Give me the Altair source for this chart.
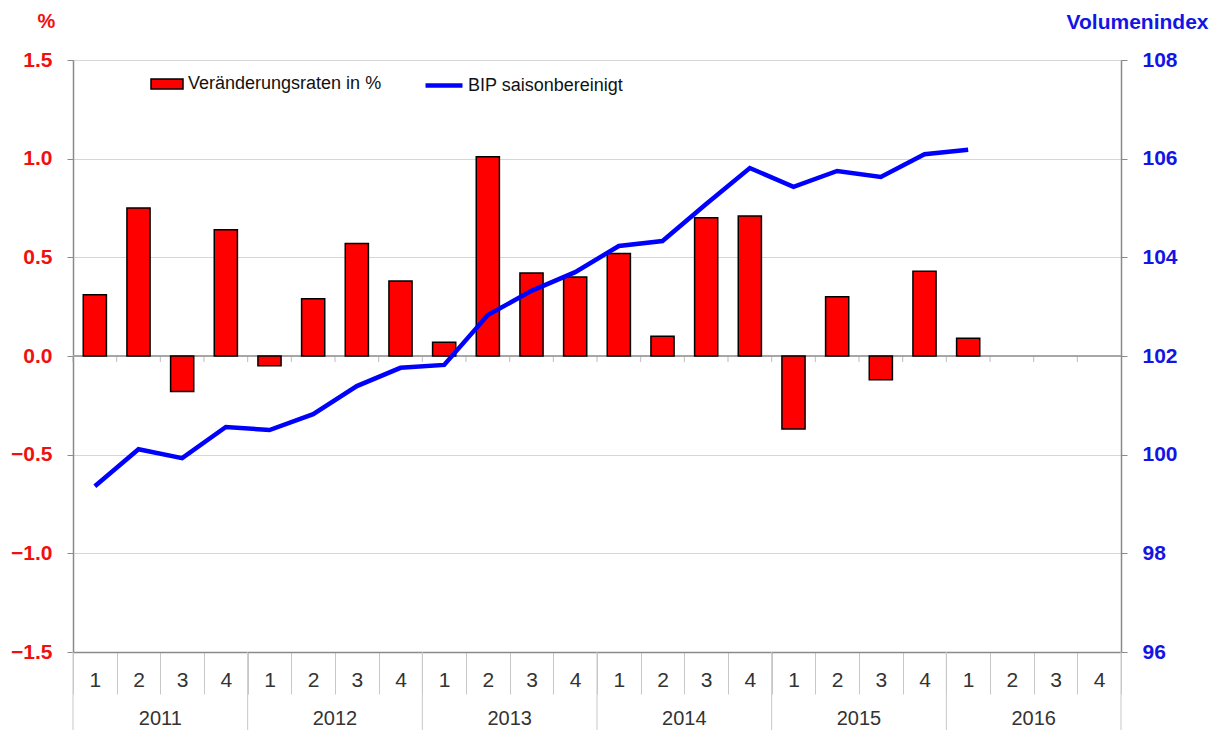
import altair as alt
import pandas as pd

years = [2011, 2012, 2013, 2014, 2015, 2016]
quarters = ["1", "2", "3", "4"]
change = [0.31, 0.75, -0.18, 0.64, -0.05, 0.29, 0.57, 0.38, 0.07, 1.01, 0.42, 0.40,
          0.52, 0.10, 0.70, 0.71, -0.37, 0.30, -0.12, 0.43, 0.09]
index = [99.36, 100.11, 99.93, 100.56, 100.50, 100.82, 101.39, 101.76, 101.82, 102.83,
         103.32, 103.70, 104.23, 104.33, 105.08, 105.81, 105.43, 105.75, 105.63, 106.09, 106.18]
left_ticks = [-1.5, -1.0, -0.5, 0.0, 0.5, 1.0, 1.5]
right_ticks = [96, 98, 100, 102, 104, 106, 108]
series_bar = "Veränderungsraten in %"
series_line = "BIP saisonbereinigt"

keys = [f"{y}-{q}" for y in years for q in quarters]
df_all = pd.DataFrame({"key": keys})
df_val = pd.DataFrame({
    "key": keys[:len(change)],
    "change": change,
    "index": index,
    "sb": series_bar,
    "sl": series_line,
})
df_years = pd.DataFrame({"key": [f"{y}-2" for y in years], "year": [str(y) for y in years]})
df_ystart = pd.DataFrame({"key": [f"{y}-1" for y in years]})
df_yend = pd.DataFrame({"key": [keys[-1]]})

W, H = 1048, 592
FONT = "Liberation Sans"
RED = "#ff0000"
RED_T = "#f01010"
BLUE = "#0000ff"
BLUE_T = "#1414e6"
GRID = "#d6d6d6"
AXC = "#8a8a8a"

xscale = alt.Scale(domain=keys, paddingInner=0, paddingOuter=0)
xaxis = alt.Axis(
    labelExpr="split(datum.value, '-')[1]", labelAngle=0, tickBand="extent",
    tickSize=42, tickColor="#c8c8c8", tickWidth=1, labelPadding=-14,
    labelBaseline="middle", labelFontSize=21, labelColor="#333333", labelFont=FONT,
    domainColor=AXC, domainWidth=1.5, grid=False, title=None,
)


def X(**kw):
    return alt.X("key:N", scale=xscale, axis=xaxis, title=None, **kw)


yscale_l = alt.Scale(domain=[-1.5, 1.5], nice=False, zero=False)
yscale_r = alt.Scale(domain=[96, 108], nice=False, zero=False)

yaxis_l = alt.Axis(
    values=left_ticks, format=".1f", title="%", titleAngle=0, titleX=-27, titleY=-39,
    titleAlign="center", titleBaseline="middle", titleColor=RED_T, titleFontSize=20,
    titleFontWeight="bold", titleFont=FONT,
    labelColor=RED_T, labelFontWeight="bold", labelFontSize=21, labelFont=FONT,
    labelPadding=15, tickSize=6, tickColor=AXC, domainColor=AXC, domainWidth=1.5,
    grid=True, gridColor=GRID, gridWidth=1,
)
yaxis_r = alt.Axis(
    orient="right", values=right_ticks, title="Volumenindex", titleAngle=0,
    titleX=87, titleY=-38, titleAlign="right", titleBaseline="middle",
    titleColor=BLUE_T, titleFontSize=21, titleFontWeight="bold", titleFont=FONT,
    labelColor=BLUE_T, labelFontWeight="bold", labelFontSize=21, labelFont=FONT,
    labelPadding=15, tickSize=6, tickColor=AXC, domainColor=AXC, domainWidth=1.5,
    grid=False,
)

bars = alt.Chart(df_val).mark_bar(
    stroke="black", strokeWidth=1.5, width=alt.RelativeBandSize(0.53)
).encode(
    x=X(),
    y=alt.Y("change:Q", scale=yscale_l, axis=yaxis_l),
    y2=alt.Y2(datum=0),
    fill=alt.Fill("sb:N", scale=alt.Scale(domain=[series_bar], range=[RED]),
                  legend=alt.Legend(
                      orient="none", legendX=77, legendY=7, title=None, padding=0,
                      symbolType="M-1,-0.31H1V0.31H-1Z", symbolSize=1024,
                      symbolStrokeColor="black", symbolStrokeWidth=1.5,
                      labelFontSize=18, labelFont=FONT, labelColor="#111111",
                      labelOffset=4, labelLimit=0)),
)

zero_ticks = alt.Chart(df_all).mark_tick(
    orient="vertical", size=6, yOffset=3, color="#a0a0a0", thickness=1
).encode(
    x=X(bandPosition=0),
    y=alt.Y(datum=0, scale=yscale_l, axis=None),
)
zero_line = alt.Chart(df_all).mark_rule(color="#a6a6a6", strokeWidth=1.2).encode(
    y=alt.Y(datum=0, scale=yscale_l, axis=None),
)

ystart = alt.Chart(df_ystart).mark_rule(color="#c8c8c8", strokeWidth=1).encode(
    x=X(bandPosition=0), y=alt.value(H), y2=alt.value(H + 90),
)
yend = alt.Chart(df_yend).mark_rule(color="#c8c8c8", strokeWidth=1).encode(
    x=X(bandPosition=1), y=alt.value(H), y2=alt.value(H + 90),
)
ylabels = alt.Chart(df_years).mark_text(
    fontSize=20, color="#333333", font=FONT, baseline="middle"
).encode(
    x=X(bandPosition=1), y=alt.value(H + 67), text="year:N",
)

line = alt.Chart(df_val).mark_line(strokeWidth=4.5).encode(
    x=X(),
    y=alt.Y("index:Q", scale=yscale_r, axis=yaxis_r),
    stroke=alt.Stroke("sl:N", scale=alt.Scale(domain=[series_line], range=[BLUE]),
                      legend=alt.Legend(
                          orient="none", legendX=350, legendY=4.5, title=None, padding=0,
                          symbolType="stroke", symbolSize=1369, symbolStrokeWidth=4.5,
                          labelFontSize=18, labelFont=FONT, labelColor="#111111",
                          labelOffset=3, labelLimit=0)),
)

chart = alt.layer(
    zero_line, bars, zero_ticks, ystart, yend, ylabels, line
).resolve_scale(y="independent", fill="independent", stroke="independent").properties(
    width=W, height=H,
    padding={"left": 65, "top": 52, "right": 92, "bottom": 78},
    autosize=alt.AutoSizeParams(type="none"),
).configure_view(stroke=AXC, strokeWidth=1.5).configure(font=FONT)

chart.save("out.html", embed_options={"renderer": "svg", "actions": False})
